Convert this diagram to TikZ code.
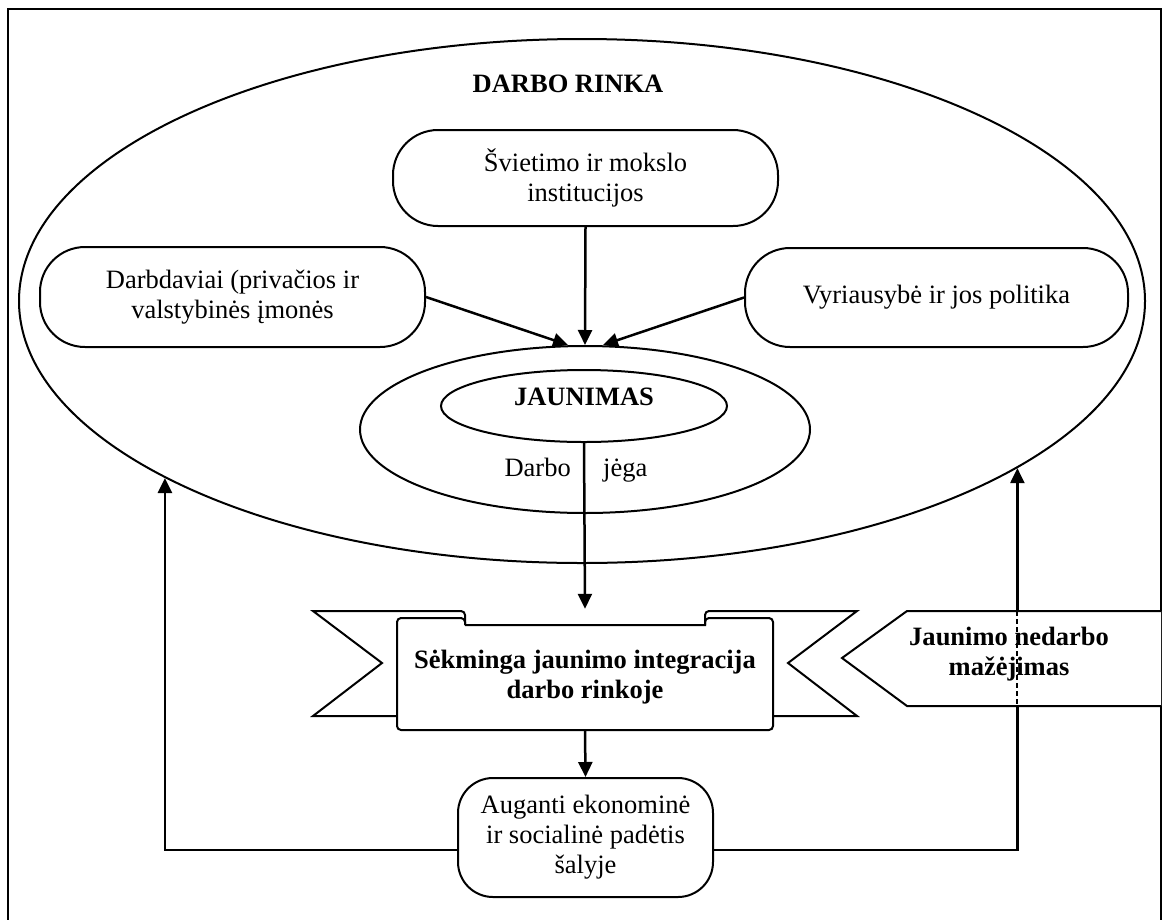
\documentclass[tikz,border=0pt]{standalone}
\usepackage{fontspec}
\setmainfont{Liberation Serif}
\usetikzlibrary{arrows.meta,shapes.geometric}
\tikzset{
  box/.style={draw,line width=2pt,align=center,inner sep=0pt,
    font=\fontsize{26.5}{30}\selectfont},
  oval/.style={draw,ellipse,line width=2pt,inner sep=0pt},
  lbl/.style={align=center,inner sep=0pt,font=\fontsize{26.5}{30}\selectfont},
  boldlbl/.style={align=center,inner sep=0pt,font=\fontsize{26.5}{30}\selectfont\bfseries},
  arr/.style={line width=2.5pt,-{Triangle[length=15pt,width=14pt]}},
  edge/.style={line width=2pt},
}
\begin{document}
\begin{tikzpicture}[x=1pt,y=-1pt]
  \useasboundingbox (0,0) rectangle (1164,919);
  \clip (0,0) rectangle (1164,919);
  \draw[line width=2.8pt] (8,940) -- (8,9) -- (1161,9) -- (1161,940);

  % darbo rinka
  \node[oval,minimum width=1126pt,minimum height=524pt] (rinka) at (582,301) {};
  \node[boldlbl] (rinkatitle) at (568,84) {DARBO RINKA};

  \node[box,rounded corners=45pt,minimum width=385pt,minimum height=96pt]
    (svietimas) at (585.5,178) {Švietimo ir mokslo\\institucijos};
  \node[box,rounded corners=45pt,minimum width=385pt,minimum height=100pt]
    (darbdaviai) at (232.5,297) {Darbdaviai (privačios ir\\valstybinės įmonės};
  \node[box,rounded corners=45pt,minimum width=383pt,minimum height=99pt]
    (vyriausybe) at (936.5,297.5) {Vyriausybė ir jos politika};

  % jaunimas
  \node[oval,minimum width=450pt,minimum height=167pt] (jega) at (585,429.5) {};
  \node[oval,minimum width=286pt,minimum height=72pt] (jaunimas) at (584,406) {};
  \node[boldlbl] (jaunimastxt) at (584,397) {JAUNIMAS};
  \node[lbl,anchor=base east] (darbo) at (571,476) {Darbo};
  \node[lbl,anchor=base west] (jegatxt) at (603,476) {jėga};

  \draw[arr] (svietimas.south) -- (jega.north);
  \draw[arr] (darbdaviai.east) -- ([xshift=-17pt]jega.north);
  \draw[arr] (vyriausybe.west) -- ([xshift=18pt]jega.north);

  % juosta
  \draw[edge] (397,716) -- (313,716) -- (382,663) -- (313,611)
    [rounded corners=4pt] -- (465,611) -- (465,625);
  \draw[edge] (773,716) -- (857,716) -- (788,663) -- (857,611)
    [rounded corners=4pt] -- (705,611) -- (705,625);
  \draw[edge] (465,625) -- (705,625) [rounded corners=4pt] -- (705,618) -- (773,618)
    -- (773,730) -- (397,730) -- (397,618) -- (465,618) [sharp corners] -- (465,625);
  \node[boldlbl,minimum width=376pt,minimum height=105pt] (integracija) at (585,677.5)
    {Sėkminga jaunimo integracija\\darbo rinkoje};
  \draw[arr] (jaunimas.south) -- ([yshift=16pt]integracija.north);

  \node[box,rounded corners=35pt,minimum width=255pt,minimum height=119pt]
    (auganti) at (585.5,837.5) {Auganti ekonominė\\ir socialinė padėtis\\šalyje};
  \draw[arr] (integracija.south) -- (auganti.north);

  \draw[arr] ([yshift=-12.5pt]auganti.west) -| (rinka.203.3);
  \draw[arr] ([yshift=-12.5pt]auganti.east) -| (rinka.339.2);

  % nedarbas
  \filldraw[edge,fill=white] (1161,611) -- (907,611) -- (842,658) -- (907,706) -- (1161,706);
  \node[boldlbl] (nedarbas) at (1009,654) {Jaunimo nedarbo\\mažėjimas};
  \draw[edge,dash pattern=on 5pt off 3pt] (rinka.339.2 |- 0,611) -- (rinka.339.2 |- 0,706);
\end{tikzpicture}
\end{document}
